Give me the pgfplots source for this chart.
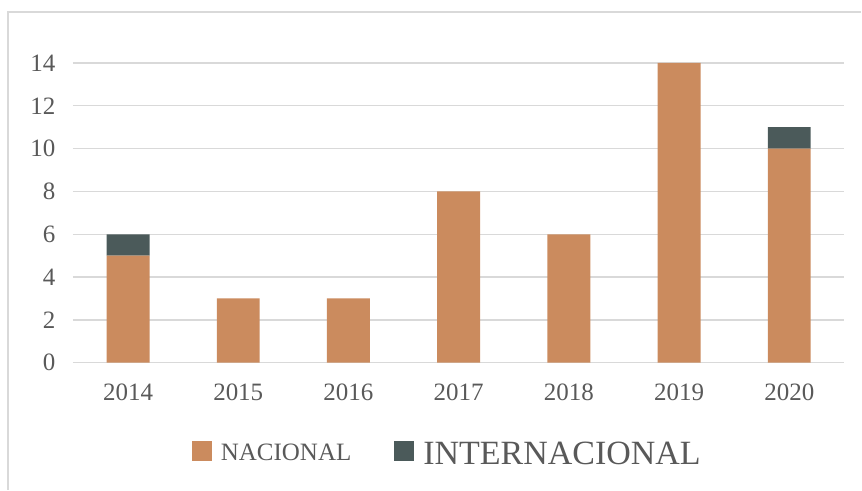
\documentclass[border=0pt]{standalone}
\usepackage{fontspec}
\setmainfont{Liberation Serif}
\usepackage{pgfplots}
\pgfplotsset{compat=1.18}
\definecolor{nac}{HTML}{CB8B5E}
\definecolor{intl}{HTML}{4B5A5A}
\definecolor{txt}{HTML}{595959}
\definecolor{gridc}{HTML}{D9D9D9}
\begin{document}
\begin{tikzpicture}
\path (0pt,0pt) rectangle (862pt,490pt);
\draw[gridc, line width=1.3pt] (8pt,0pt) -- (8pt,478pt) -- (862pt,478pt);
\begin{axis}[
  at={(73pt,127pt)}, anchor=south west,
  scale only axis, width=772pt, height=300pt,
  xmin=-0.5, xmax=6.5, ymin=0, ymax=14,
  ybar stacked, bar width=43pt,
  axis line style={draw=none},
  major tick length=0pt,
  xtick={0,1,2,3,4,5,6},
  xticklabels={2014,2015,2016,2017,2018,2019,2020},
  ytick={0,2,4,6,8,10,12,14},
  ymajorgrids=true, xmajorgrids=false,
  major grid style={draw=gridc, line width=1.3pt},
  tick label style={font=\fontsize{25}{30}\selectfont, text=txt},
  /pgf/number format/assume math mode=true,
  yticklabel style={xshift=-14pt},
  xticklabel style={yshift=-18pt},
  legend style={at={(0.484,-0.297)}, anchor=center, draw=none, fill=none,
    legend columns=2, text=txt,
    nodes={inner sep=0pt},
    /tikz/every odd column/.append style={column sep=9pt},
    /tikz/every even column/.append style={column sep=43pt}},
  legend image code/.code={\fill[#1] (0pt,-8pt) rectangle (20pt,12pt);},
]
\addplot[fill=nac, draw=none] coordinates {(0,5) (1,3) (2,3) (3,8) (4,6) (5,14) (6,10)};
\addplot[fill=intl, draw=none] coordinates {(0,1) (1,0) (2,0) (3,0) (4,0) (5,0) (6,1)};
\addlegendentry{\fontsize{25}{30}\selectfont NACIONAL}
\addlegendentry{\fontsize{34}{40}\selectfont\raisebox{-3.5pt}{INTERNACIONAL}}
\end{axis}
\end{tikzpicture}
\end{document}
